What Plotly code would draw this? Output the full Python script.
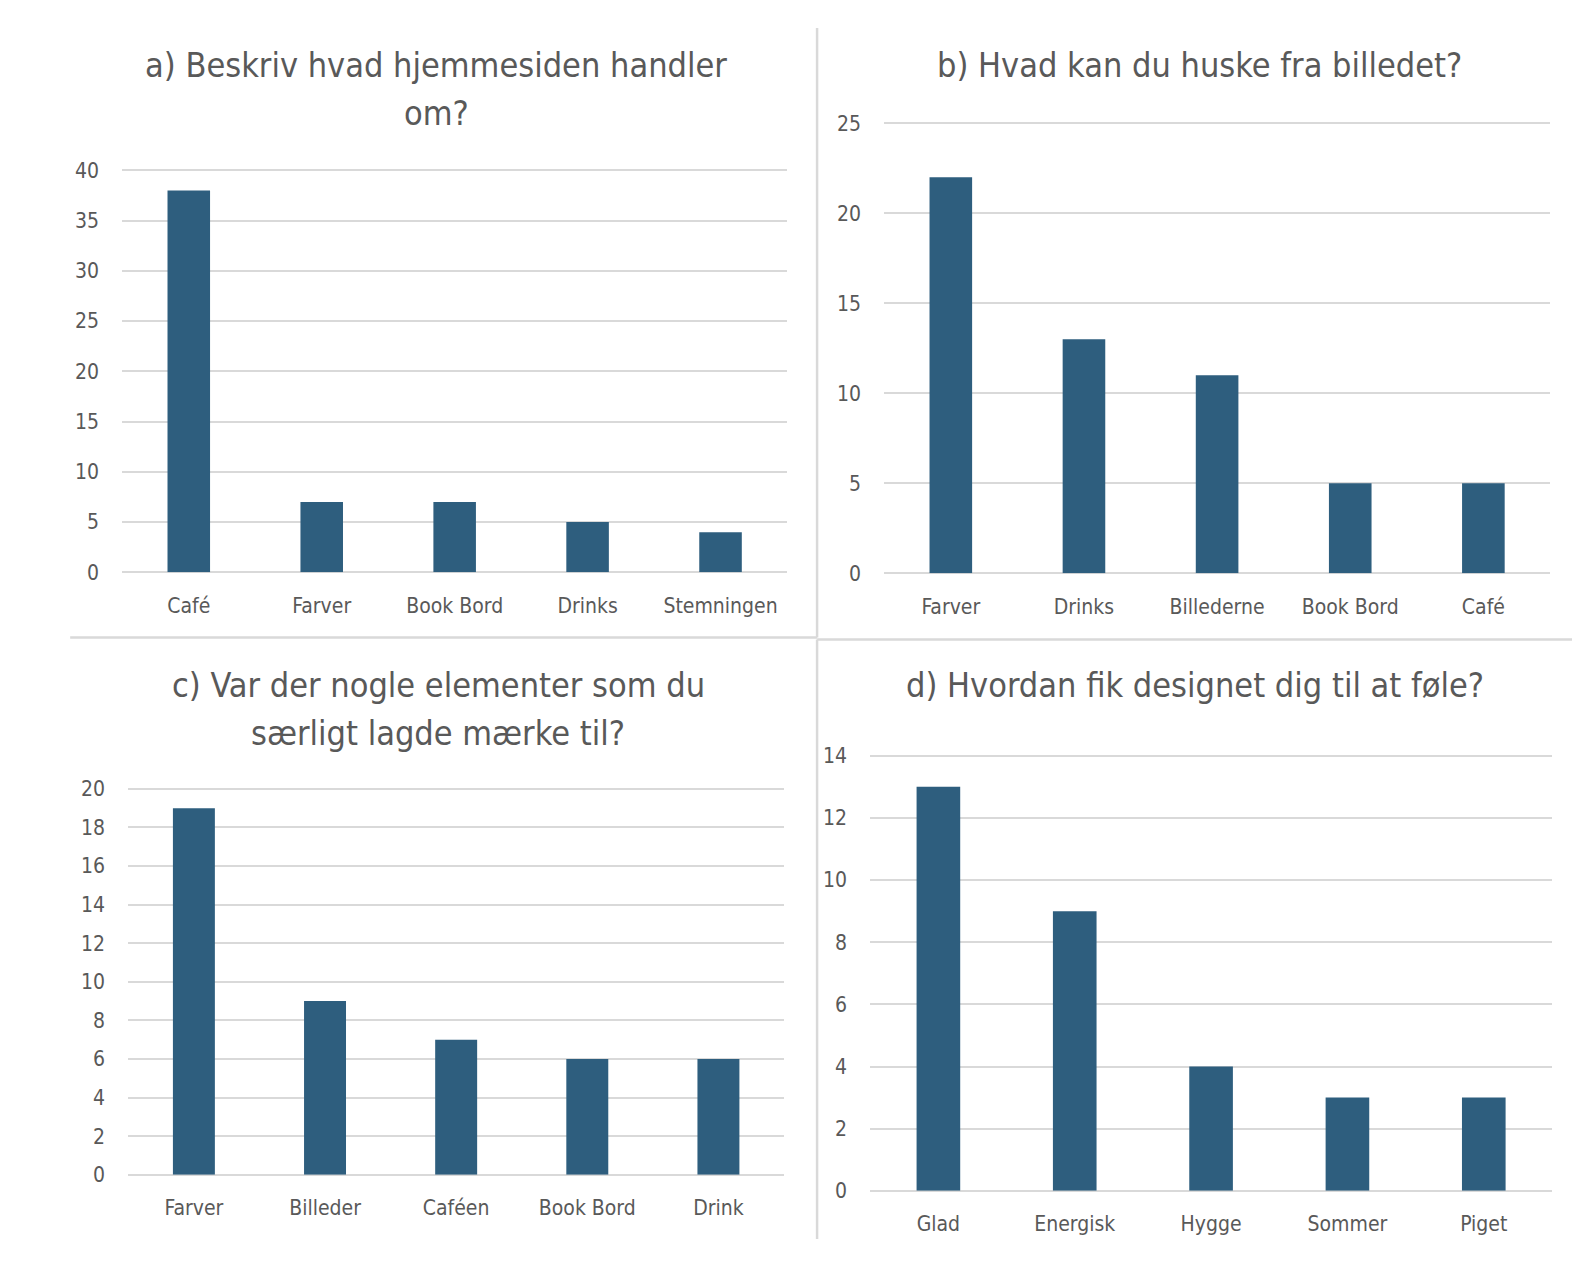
import plotly.graph_objects as go

W, H = 1572, 1280
SX, SY = 1572 / 1568, 1280 / 1277  # measured on a 1568x1277 view

cats_a = ["Café", "Farver", "Book Bord", "Drinks", "Stemningen"]
vals_a = [38, 7, 7, 5, 4]
cats_b = ["Farver", "Drinks", "Billederne", "Book Bord", "Café"]
vals_b = [22, 13, 11, 5, 5]
cats_c = ["Farver", "Billeder", "Caféen", "Book Bord", "Drink"]
vals_c = [19, 9, 7, 6, 6]
cats_d = ["Glad", "Energisk", "Hygge", "Sommer", "Piget"]
vals_d = [13, 9, 4, 3, 3]

titles = [["a) Beskriv hvad hjemmesiden handler", "om?"],
          ["b) Hvad kan du huske fra billedet?"],
          ["c) Var der nogle elementer som du", "særligt lagde mærke til?"],
          ["d) Hvordan fik designet dig til at føle?"]]

FONT = "Liberation Sans Narrow, DejaVu Sans Condensed, Roboto, sans-serif"
TXT = "#595959"
GRID = "#d9d9d9"
BAR = "#2E5E7E"

# panel geometry in (view) pixels: (x0, x1, y_zero, y_top, ymax, dtick)
panels = [
    (122, 785, 571, 170, 40, 5),
    (882, 1546, 572, 123, 25, 5),
    (128, 782, 1172, 787, 20, 2),
    (868, 1548, 1188, 754, 14, 2),
]
data = [(cats_a, vals_a), (cats_b, vals_b), (cats_c, vals_c), (cats_d, vals_d)]
title_pos = [(435, [65, 113]), (1196, [65]), (437, [683, 731]), (1192, [683])]


def px(x):
    return x * SX / W


def py(y):
    return 1 - y * SY / H


fig = go.Figure()
for i, ((cats, vals), (x0, x1, yz, yt, ymax, dt)) in enumerate(zip(data, panels)):
    n = "" if i == 0 else str(i + 1)
    eps = ymax * 0.006
    ytop_px = yz - (yz - yt) * (ymax + eps) / ymax
    fig.add_trace(go.Bar(x=cats, y=vals, marker=dict(color=BAR, line=dict(width=0)),
                         width=0.32, xaxis="x" + n, yaxis="y" + n, showlegend=False,
                         hoverinfo="skip"))
    fig.layout["xaxis" + n] = dict(
        domain=[px(x0), px(x1)], anchor="y" + n, showgrid=False, zeroline=False,
        showline=False, ticks="outside", ticklen=14, tickcolor="rgba(0,0,0,0)",
        tickfont=dict(family=FONT, size=21, color=TXT), fixedrange=True,
        automargin=False)
    fig.layout["yaxis" + n] = dict(
        domain=[py(yz), py(ytop_px)], anchor="x" + n, range=[0, ymax + eps],
        tick0=0, dtick=dt,
        showgrid=True, gridcolor=GRID, gridwidth=1.5, zeroline=True, zerolinecolor=GRID,
        zerolinewidth=1.5, showline=False, ticks="outside", ticklen=18,
        tickcolor="rgba(0,0,0,0)", tickfont=dict(family=FONT, size=21, color=TXT),
        fixedrange=True, automargin=False)

annotations = []
for lines, (cx, ys) in zip(titles, title_pos):
    for t, yy in zip(lines, ys):
        annotations.append(dict(text=t, x=px(cx), y=py(yy), xref="paper", yref="paper",
                                showarrow=False, xanchor="center", yanchor="middle",
                                font=dict(family=FONT, size=34, color=TXT)))

shapes = [
    dict(type="line", xref="paper", yref="paper", x0=px(815), x1=px(815),
         y0=py(28), y1=py(636), line=dict(color=GRID, width=2.5)),
    dict(type="line", xref="paper", yref="paper", x0=px(815), x1=px(815),
         y0=py(638), y1=py(1236), line=dict(color=GRID, width=2.5)),
    dict(type="line", xref="paper", yref="paper", x0=px(70), x1=px(815),
         y0=py(636), y1=py(636), line=dict(color=GRID, width=2.5)),
    dict(type="line", xref="paper", yref="paper", x0=px(815), x1=px(1568),
         y0=py(638), y1=py(638), line=dict(color=GRID, width=2.5)),
]

fig.update_layout(width=W, height=H, margin=dict(l=0, r=0, t=0, b=0, pad=0),
                  autosize=False, paper_bgcolor="white", plot_bgcolor="white",
                  annotations=annotations, shapes=shapes)

fig.write_html("out.html", config={"displayModeBar": False, "responsive": False},
               post_script="document.body.style.margin='0';document.body.style.overflow='hidden';")
